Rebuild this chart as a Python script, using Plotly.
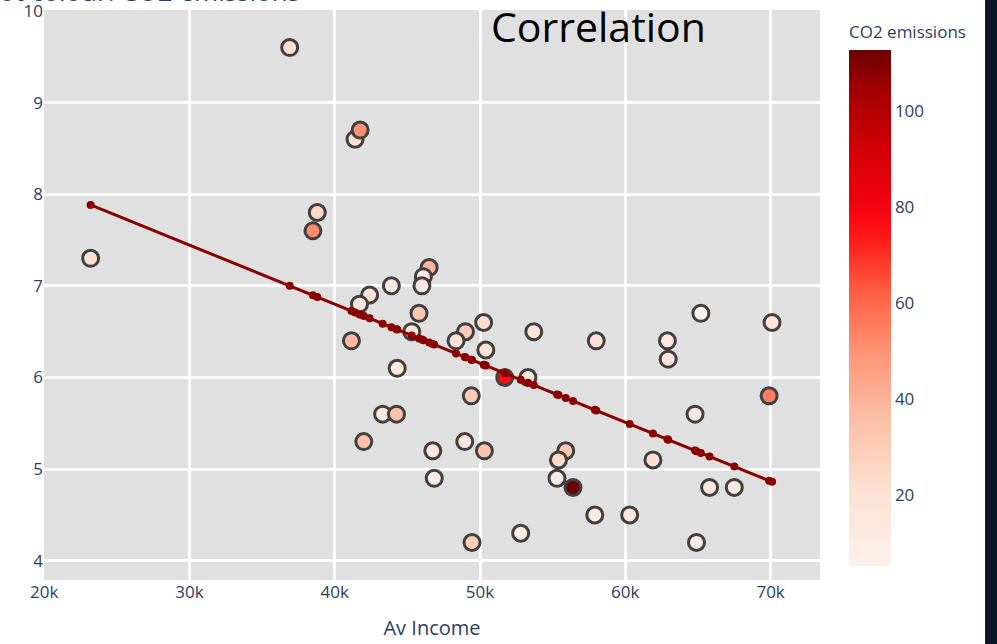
import numpy as np
import plotly.graph_objects as go

# Average income per area (USD) against the y measure, coloured by CO2 emissions
av_income = [23200, 36900, 41400, 41750, 38800, 38500, 46500, 46100, 46000, 43900,
             42400, 41700, 45800, 41150, 45300, 49000, 50250, 48350, 50400, 53700,
             58000, 44300, 51700, 53300, 49400, 43300, 44250, 42000, 46750, 48950,
             50300, 55900, 55400, 55300, 56400, 46850, 57900, 52800, 49450, 65200,
             70100, 62900, 62950, 69900, 64800, 61900, 65800, 67500, 60300, 64900]
y_value = [7.3, 9.6, 8.6, 8.7, 7.8, 7.6, 7.2, 7.1, 7.0, 7.0,
           6.9, 6.8, 6.7, 6.4, 6.5, 6.5, 6.6, 6.4, 6.3, 6.5,
           6.4, 6.1, 6.0, 6.0, 5.8, 5.6, 5.6, 5.3, 5.2, 5.3,
           5.2, 5.2, 5.1, 4.9, 4.8, 4.9, 4.5, 4.3, 4.2, 6.7,
           6.6, 6.4, 6.2, 5.8, 5.6, 5.1, 4.8, 4.8, 4.5, 4.2]
co2 = [22, 22, 20, 50, 25, 52, 40, 13, 15, 14,
       20, 15, 33, 38, 18, 30, 22, 18, 18, 18,
       20, 12, 76, 15, 30, 12, 35, 35, 15, 15,
       33, 32, 24, 10, 112.8, 11, 11, 10, 30, 5.1,
       18, 15, 15, 55, 15, 22, 14, 14, 15, 10]

x_ticks = [20000, 30000, 40000, 50000, 60000, 70000]
x_tick_labels = ["20k", "30k", "40k", "50k", "60k", "70k"]
y_ticks = [4, 5, 6, 7, 8, 9, 10]

# least-squares trend line evaluated at every income value
xs = np.array(av_income, dtype=float)
ys = np.array(y_value, dtype=float)
slope, intercept = np.polyfit(xs, ys, 1)
order = np.argsort(xs)
fit_x = xs[order]
fit_y = slope * fit_x + intercept

red_scale = [
    [0.00, "rgb(252,242,236)"],
    [0.15, "rgb(253,224,210)"],
    [0.30, "rgb(252,187,161)"],
    [0.42, "rgb(255,145,115)"],
    [0.53, "rgb(255,95,65)"],
    [0.64, "rgb(255,22,22)"],
    [0.70, "rgb(245,0,15)"],
    [0.82, "rgb(205,0,5)"],
    [0.92, "rgb(165,0,0)"],
    [1.00, "rgb(108,0,0)"],
]

TEXT = "#2a3f5f"
FONT = "Open Sans, Verdana, Arial, sans-serif"

fig = go.Figure()
fig.add_trace(go.Scatter(
    x=av_income, y=y_value, mode="markers",
    marker=dict(
        size=16, color=co2, colorscale=red_scale,
        line=dict(color="rgb(64,64,64)", width=3),
        colorbar=dict(
            title=dict(text="CO2 emissions", side="top",
                       font=dict(size=17, color=TEXT, family=FONT)),
            thicknessmode="pixels", thickness=42,
            lenmode="pixels", len=544,
            x=1.0374, xanchor="left", xpad=0,
            y=(580 - 22) / 570, yanchor="top", ypad=0,
            outlinewidth=0,
            tickvals=[20, 40, 60, 80, 100],
            tickfont=dict(size=17, color=TEXT, family=FONT),
            ticks="",
        ),
    ),
    showlegend=False,
))
fig.add_trace(go.Scatter(
    x=fit_x, y=fit_y, mode="lines+markers",
    line=dict(color="#8b0000", width=3),
    marker=dict(size=8, color="#8b0000"),
    showlegend=False,
))

fig.update_layout(
    width=997, height=644,
    margin=dict(l=44, r=177, t=10, b=64, autoexpand=False),
    paper_bgcolor="white",
    plot_bgcolor="rgb(224,224,224)",
    font=dict(family=FONT, color=TEXT, size=17),
    xaxis=dict(
        range=[19990, 73400],
        tickvals=x_ticks, ticktext=x_tick_labels,
        gridcolor="white", gridwidth=2.5, zeroline=False,
        tickfont=dict(size=17, color=TEXT),
        ticklabeloverflow="allow",
        title=dict(text="Av Income", font=dict(size=20, color=TEXT), standoff=18),
    ),
    yaxis=dict(
        range=[3.79, 10.01],
        tickvals=y_ticks,
        gridcolor="white", gridwidth=2.5, zeroline=False,
        tickfont=dict(size=17, color=TEXT),
        ticklabeloverflow="allow",
    ),
    annotations=[
        dict(text="Correlation", xref="paper", yref="paper",
             x=(598 - 44) / 776, y=(580 - 26) / 570,
             xanchor="center", yanchor="middle", showarrow=False,
             font=dict(size=41, color="black", family=FONT)),
        dict(text="Scatter plot colour: CO2 emissions", xref="paper", yref="paper",
             x=(302 - 44) / 776, y=(580 - 11) / 570,
             xanchor="right", yanchor="bottom", showarrow=False,
             font=dict(size=26, color=TEXT, family=FONT)),
    ],
    shapes=[
        dict(type="rect", xref="paper", yref="paper",
             x0=(985 - 44) / 776, x1=1.35, y0=-0.2, y1=1.1,
             fillcolor="rgb(12,24,40)", line=dict(width=0), layer="above"),
    ],
)

fig.write_html("out.html")
